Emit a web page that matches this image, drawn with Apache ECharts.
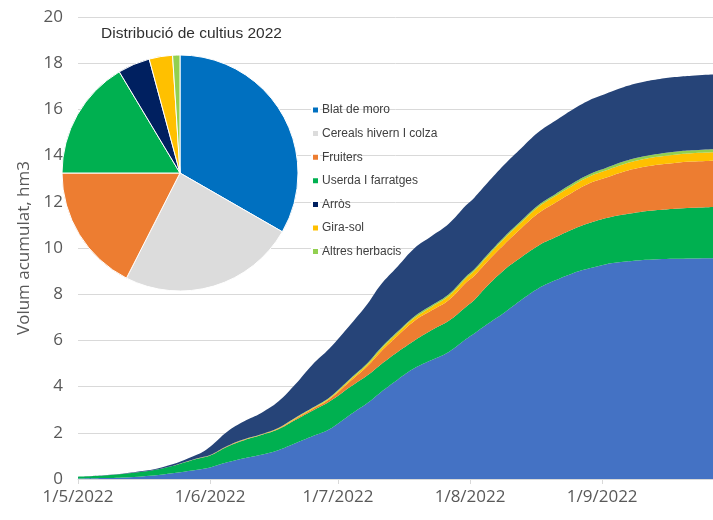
<!DOCTYPE html>
<html>
<head>
<meta charset="utf-8">
<script src="https://cdn.jsdelivr.net/npm/echarts@6/dist/echarts.min.js"></script>
<style>
html,body{margin:0;padding:0;background:#fff;}
#chart{width:713px;height:520px;}
</style>
</head>
<body>
<div id="chart"></div>
<script>
// ---- Area chart data (hm3, cumulative per crop) ----
const dates = ['2022-05-01','2022-05-07','2022-05-13','2022-05-21','2022-05-29','2022-06-01','2022-06-05','2022-06-09','2022-06-13','2022-06-17','2022-06-21','2022-06-25','2022-06-29','2022-07-04','2022-07-08','2022-07-11','2022-07-15','2022-07-19','2022-07-23','2022-07-27','2022-07-31','2022-08-02','2022-08-05','2022-08-09','2022-08-13','2022-08-17','2022-08-21','2022-08-25','2022-08-29','2022-09-02','2022-09-06','2022-09-10','2022-09-14','2022-09-18','2022-09-22','2022-09-27'];
const blatDeMoro = [0.02,0.04,0.08,0.20,0.40,0.50,0.72,0.90,1.05,1.25,1.55,1.85,2.15,2.80,3.30,3.75,4.30,4.80,5.15,5.50,6.05,6.30,6.70,7.20,7.75,8.25,8.60,8.90,9.12,9.30,9.40,9.47,9.51,9.53,9.55,9.56];
const userda = [0.08,0.11,0.17,0.27,0.48,0.52,0.68,0.78,0.85,0.90,1.00,1.10,1.20,1.20,1.20,1.20,1.20,1.20,1.30,1.35,1.40,1.45,1.65,1.85,1.85,1.85,1.86,1.90,1.96,2.00,2.05,2.09,2.13,2.17,2.19,2.22];
const fruiters = [0,0,0,0,0.01,0.01,0.02,0.02,0.02,0.03,0.05,0.07,0.10,0.25,0.40,0.55,0.70,0.85,0.85,0.90,1.05,1.05,1.05,1.10,1.25,1.40,1.50,1.60,1.72,1.75,1.85,1.92,1.96,1.98,2.00,2.00];
const giraSol = [0,0,0,0,0,0,0,0.01,0.01,0.02,0.03,0.04,0.05,0.07,0.08,0.10,0.12,0.13,0.15,0.17,0.18,0.20,0.22,0.25,0.25,0.27,0.29,0.30,0.30,0.32,0.33,0.34,0.35,0.36,0.36,0.36];
const altresHerbacis = [0,0,0,0,0.01,0.01,0.01,0.01,0.01,0.01,0.02,0.02,0.03,0.04,0.05,0.06,0.06,0.07,0.07,0.08,0.08,0.08,0.08,0.08,0.08,0.08,0.08,0.09,0.09,0.10,0.11,0.12,0.12,0.13,0.13,0.14];
const arros = [0,0.01,0.02,0.05,0.16,0.36,0.62,0.78,0.92,1.14,1.45,1.87,2.12,2.34,2.57,2.74,2.82,2.95,3.00,3.05,3.08,3.10,3.10,3.12,3.14,3.16,3.18,3.20,3.21,3.22,3.22,3.22,3.23,3.23,3.23,3.23];

// ---- Pie data (share of crops, %) ----
const pieNames = ['Blat de moro','Cereals hivern I colza','Fruiters','Userda I farratges','Arròs','Gira-sol','Altres herbacis'];
const pieValues = [33.3,24.2,17.5,16.4,4.4,3.2,1.0];
const pieColors = ['#0070C0','#DCDCDC','#ED7D31','#00B050','#002060','#FFC000','#92D050'];

const pieTitle = 'Distribució de cultius 2022';
const yAxisName = 'Volum acumulat, hm3';

const chart = echarts.init(document.getElementById('chart'), null, {renderer:'canvas'});

function areaSeries(name, values, color){
  return {
    name: name,
    type: 'line',
    stack: 'vol',
    smooth: 0.4,
    showSymbol: false,
    lineStyle: {width: 0, color: color},
    itemStyle: {color: color},
    areaStyle: {color: color, opacity: 1},
    data: dates.map((d, i) => [d, values[i]]),
    z: 2
  };
}

const option = {
  animation: false,
  backgroundColor: '#ffffff',
  title: {
    text: pieTitle,
    left: 96,
    top: 21,
    textStyle: {fontFamily: 'Liberation Sans, Arial, sans-serif', fontSize: 15.5, fontWeight: 'normal', color: '#303030'}
  },
  legend: {
    data: pieNames,
    orient: 'vertical',
    left: 306,
    top: 99,
    icon: 'rect',
    itemWidth: 7,
    itemHeight: 7,
    itemGap: 11.6,
    textStyle: {fontFamily: 'Liberation Sans, Arial, sans-serif', fontSize: 12, color: '#404040', padding: [0,0,0,-2]},
    selectedMode: false
  },
  grid: {left: 78, right: 0, top: 17, bottom: 41},
  xAxis: {
    type: 'time',
    min: '2022-05-01',
    max: '2022-09-27',
    minInterval: 28 * 86400000,
    maxInterval: 31 * 86400000,
    axisLine: {show: true, lineStyle: {color: '#D9D9D9', width: 1}},
    axisTick: {show: true, length: 5, lineStyle: {color: '#D9D9D9'}},
    splitLine: {show: false},
    axisLabel: {
      fontFamily: 'Open Sans, sans-serif',
      fontSize: 17,
      color: '#595959',
      margin: 10,
      showMaxLabel: false,
      formatter: function (v) {
        const d = new Date(v);
        return d.getDate() + '/' + (d.getMonth() + 1) + '/' + d.getFullYear();
      }
    }
  },
  yAxis: {
    type: 'value',
    min: 0,
    max: 20,
    interval: 2,
    name: yAxisName,
    nameLocation: 'middle',
    nameGap: 45,
    nameTextStyle: {fontFamily: 'Open Sans, sans-serif', fontSize: 17, color: '#595959'},
    axisLine: {show: false},
    axisTick: {show: false},
    splitLine: {show: true, lineStyle: {color: '#D9D9D9', width: 1}},
    axisLabel: {fontFamily: 'Open Sans, sans-serif', fontSize: 17, color: '#595959', margin: 15}
  },
  series: [
    areaSeries('Volum Blat de moro', blatDeMoro, '#4472C4'),
    areaSeries('Volum Userda I farratges', userda, '#00B050'),
    areaSeries('Volum Fruiters', fruiters, '#ED7D31'),
    areaSeries('Volum Gira-sol', giraSol, '#FFC000'),
    areaSeries('Volum Altres herbacis', altresHerbacis, '#92D050'),
    areaSeries('Volum Arròs', arros, '#264478'),
    {
      type: 'pie',
      center: [180, 173],
      radius: 118,
      startAngle: 90,
      clockwise: true,
      label: {show: false},
      labelLine: {show: false},
      itemStyle: {borderColor: '#ffffff', borderWidth: 1},
      z: 5,
      data: pieNames.map((n, i) => ({name: n, value: pieValues[i], itemStyle: {color: pieColors[i]}}))
    }
  ]
};
chart.setOption(option);
</script>
</body>
</html>
